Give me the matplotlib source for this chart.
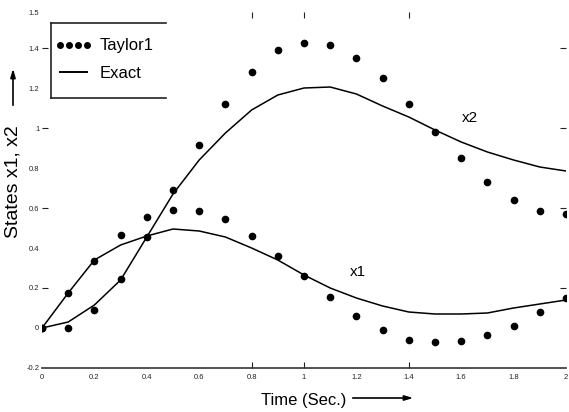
import numpy as np
import matplotlib.pyplot as plt
from matplotlib.lines import Line2D

# time grid of the Taylor1 samples and of the read-off exact curve
t = [0.0, 0.1, 0.2, 0.3, 0.4, 0.5, 0.6, 0.7, 0.8, 0.9, 1.0,
     1.1, 1.2, 1.3, 1.4, 1.5, 1.6, 1.7, 1.8, 1.9, 2.0]

x1_taylor = [0.0, 0.175, 0.335, 0.465, 0.555, 0.59, 0.585, 0.545, 0.46, 0.36, 0.26,
             0.155, 0.06, -0.01, -0.06, -0.07, -0.065, -0.035, 0.01, 0.08, 0.15]
x2_taylor = [0.0, 0.0, 0.09, 0.245, 0.455, 0.69, 0.915, 1.12, 1.28, 1.39, 1.425,
             1.415, 1.35, 1.25, 1.12, 0.98, 0.85, 0.73, 0.64, 0.585, 0.57]

x1_exact = [0.0, 0.175, 0.34, 0.415, 0.46, 0.495, 0.485, 0.455, 0.40, 0.34, 0.265,
            0.2, 0.15, 0.11, 0.08, 0.07, 0.07, 0.075, 0.10, 0.12, 0.14]
x2_exact = [0.0, 0.03, 0.115, 0.24, 0.455, 0.67, 0.84, 0.975, 1.09, 1.165, 1.2,
            1.205, 1.17, 1.11, 1.055, 0.99, 0.93, 0.88, 0.84, 0.805, 0.785]

xticks = [0, 0.2, 0.4, 0.6, 0.8, 1.0, 1.2, 1.4, 1.6, 1.8, 2.0]
xticklabels = ['0', '0.2', '0.4', '0.6', '0.8', '1', '1.2', '1.4', '1.6', '1.8', '2']
y_top = 1.58
yticks = [-0.2, 0, 0.2, 0.4, 0.6, 0.8, 1.0, 1.2, 1.4, y_top]
yticklabels = ['-0.2', '0', '0.2', '0.4', '0.6', '0.8', '1', '1.2', '1.4', '1.5']

plt.rcParams['font.family'] = ['Liberation Sans', 'DejaVu Sans']

fig = plt.figure(figsize=(5.69, 4.12), dpi=100)
W, H = 569, 412
ax = fig.add_axes([42 / W, 1 - 368 / H, 524 / W, 356 / H])

ax.plot(t, x1_taylor, 'o', color='black', markersize=4.5)
ax.plot(t, x2_taylor, 'o', color='black', markersize=4.5)
ax.plot(t, x1_exact, '-', color='black', lw=1.1)
ax.plot(t, x2_exact, '-', color='black', lw=1.1)

ax.text(1.205, 0.28, 'x1', fontsize=11, ha='center', va='center')
ax.text(1.634, 1.05, 'x2', fontsize=11, ha='center', va='center')

ax.set_xlim(0, 2)
ax.set_ylim(-0.2, y_top)
for s in ['left', 'right', 'top']:
    ax.spines[s].set_visible(False)
ax.spines['bottom'].set_color('#333333')
ax.spines['bottom'].set_linewidth(1.2)

ax.set_xticks(xticks)
ax.set_xticklabels(xticklabels)
ax.set_yticks(yticks)
ax.set_yticklabels(yticklabels)
ax.tick_params(which='major', length=0, labelsize=5.5, colors='#222222')
ax.tick_params(axis='x', which='major', pad=4)
ax.tick_params(axis='y', which='major', pad=2)

# the sparse inward tick marks of the original
ax.xaxis.remove_overlapping_locs = False
ax.yaxis.remove_overlapping_locs = False
ax.set_xticks([0.8, 1.0, 1.4], minor=True)
ax.set_yticks([0.2, 0.6, 1.0, 1.4], minor=True)
ax.tick_params(which='minor', direction='in', length=4, width=0.8, color='#222222',
               top=True, right=True, bottom=True, left=True)

# legend
handles = [Line2D([], [], marker='o', ls='none', color='black', markersize=4),
           Line2D([], [], ls='-', color='black', lw=1.4)]
ax.legend(handles, ['Taylor1', 'Exact'], loc='upper left', frameon=False,
          bbox_to_anchor=(52 / W, 1 - 35 / H), bbox_transform=fig.transFigure,
          numpoints=4, handlelength=2.2, handletextpad=0.45, fontsize=12,
          borderpad=0.2, labelspacing=0.75, borderaxespad=0)
box = dict(color='#222222', lw=1.2, transform=fig.transFigure)
fig.add_artist(Line2D([51 / W, 51 / W], [1 - 23 / H, 1 - 98 / H], **box))
fig.add_artist(Line2D([51 / W, 166 / W], [1 - 23 / H, 1 - 23 / H], **box))
fig.add_artist(Line2D([51 / W, 166 / W], [1 - 98 / H, 1 - 98 / H], **box))

# axis labels with arrows
fig.text(13 / W, 1 - 182 / H, 'States x1, x2', rotation=90, fontsize=14,
         ha='center', va='center')
fig.text(304 / W, 1 - 400 / H, 'Time (Sec.)', fontsize=12, ha='center', va='center')
arrow = dict(arrowstyle='-|>,head_length=0.5,head_width=0.15', color='black', lw=1.2)
ax.annotate('', xy=(13 / W, 1 - 66 / H), xytext=(13 / W, 1 - 108 / H),
            xycoords='figure fraction', textcoords='figure fraction', arrowprops=arrow)
ax.annotate('', xy=(416 / W, 1 - 398 / H), xytext=(350 / W, 1 - 398 / H),
            xycoords='figure fraction', textcoords='figure fraction', arrowprops=arrow)

fig.savefig('out.png', dpi=100)
